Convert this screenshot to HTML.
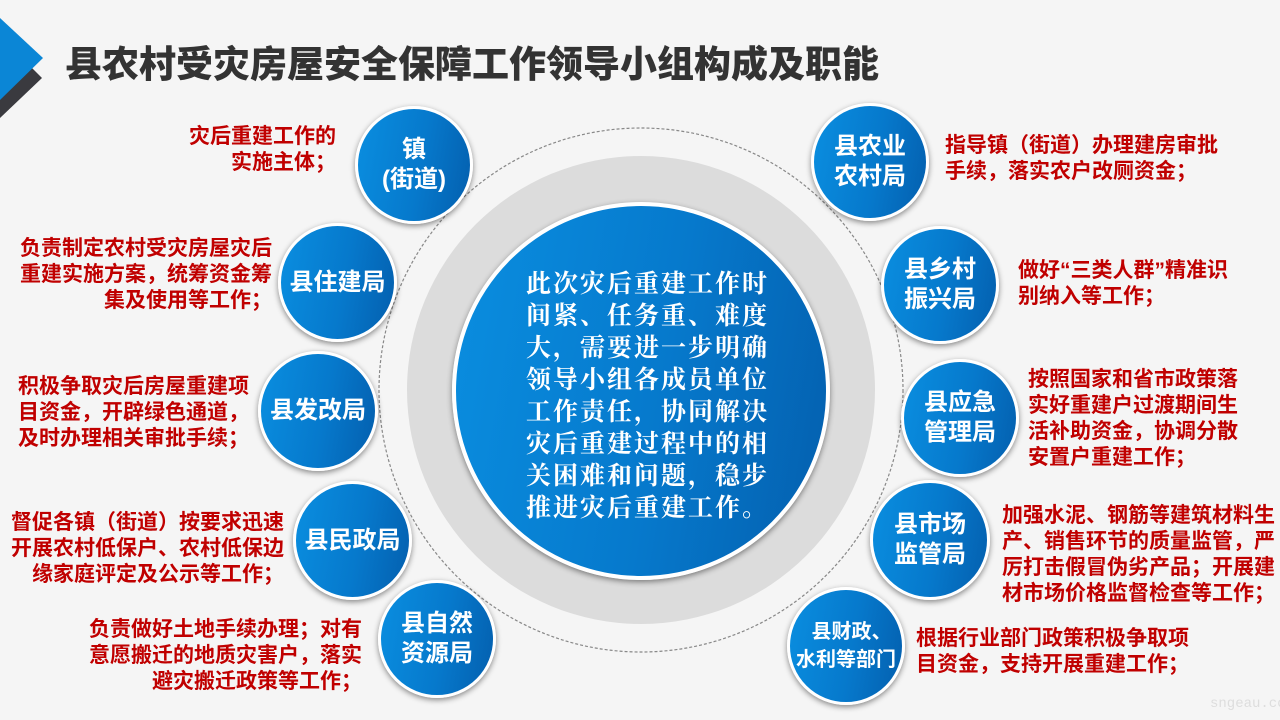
<!DOCTYPE html>
<html><head><meta charset="utf-8"><style>
body{margin:0;width:1280px;height:720px;overflow:hidden;background:#f5f5f5;font-family:"Liberation Sans","Noto Sans CJK SC",sans-serif;position:relative}
.a{position:absolute}
.n{position:absolute;border-radius:50%;background:linear-gradient(100deg,#0a8ee0 0%,#0679cc 55%,#045fae 100%);border:3px solid #fff;box-shadow:0 2px 6px rgba(0,0,0,.45);color:#fff;font-weight:bold;font-size:24px;line-height:30px;display:flex;align-items:center;justify-content:center;text-align:center;box-sizing:border-box}
.t{position:absolute;color:#c00000;font-weight:bold;font-size:21px;line-height:26px;white-space:nowrap}
.r{text-align:right}
</style></head><body>
<svg class="a" style="left:0;top:0" width="1280" height="720">
<polygon points="0,36 0,118 42,78" fill="#3a3a3f"/>
<polygon points="0,18 0,100 43,58" fill="#0b86d6"/>
<circle cx="641" cy="390" r="262" fill="none" stroke="#888" stroke-width="1.2" stroke-dasharray="3,2"/>
<circle cx="641" cy="390" r="234" fill="#dcdcdc"/>
</svg>
<div class="a" style="left:65px;top:34px;font-size:37px;font-weight:900;color:#333;letter-spacing:0px;white-space:nowrap;font-family:'Noto Sans CJK SC',sans-serif">县农村受灾房屋安全保障工作领导小组构成及职能</div>
<div class="n" style="left:452px;top:202px;width:378px;height:378px;border-width:4px;display:block;padding:60px 0 0 70px;text-align:left;font-size:25px;line-height:32px;letter-spacing:2px;font-family:'Noto Serif CJK SC',serif">此次灾后重建工作时<br>间紧、任务重、难度<br>大，需要进一步明确<br>领导小组各成员单位<br>工作责任，协同解决<br>灾后重建过程中的相<br>关困难和问题，稳步<br>推进灾后重建工作。</div>

<div class="n" style="left:355px;top:106px;width:118px;height:118px">镇<br>(街道)</div>
<div class="n" style="left:278px;top:223px;width:119px;height:119px">县住建局</div>
<div class="n" style="left:258px;top:351px;width:120px;height:120px">县发改局</div>
<div class="n" style="left:293px;top:481px;width:119px;height:119px">县民政局</div>
<div class="n" style="left:378px;top:580px;width:118px;height:118px">县自然<br>资源局</div>
<div class="n" style="left:811px;top:103px;width:118px;height:118px">县农业<br>农村局</div>
<div class="n" style="left:881px;top:226px;width:118px;height:118px">县乡村<br>振兴局</div>
<div class="n" style="left:901px;top:359px;width:118px;height:118px">县应急<br>管理局</div>
<div class="n" style="left:870px;top:480px;width:120px;height:120px">县市场<br>监管局</div>
<div class="n" style="left:787px;top:587px;width:118px;height:118px;font-size:20px;line-height:28px">&nbsp;&nbsp;县财政、<br>水利等部门</div>

<div class="t r" style="right:944px;top:124px">灾后重建工作的<br>实施主体；</div>
<div class="t r" style="right:1008px;top:236px">负责制定农村受灾房屋灾后<br>重建实施方案，统筹资金筹<br>集及使用等工作；</div>
<div class="t" style="left:18px;top:374px">积极争取灾后房屋重建项<br>目资金，开辟绿色通道，<br>及时办理相关审批手续；</div>
<div class="t r" style="right:996px;top:510px">督促各镇（街道）按要求迅速<br>开展农村低保户、农村低保边<br>缘家庭评定及公示等工作；</div>
<div class="t r" style="right:918px;top:617px">负责做好土地手续办理；对有<br>意愿搬迁的地质灾害户，落实<br>避灾搬迁政策等工作；</div>
<div class="t" style="left:945px;top:133px">指导镇（街道）办理建房审批<br>手续，落实农户改厕资金；</div>
<div class="t" style="left:1018px;top:258px">做好“三类人群”精准识<br>别纳入等工作；</div>
<div class="t" style="left:1028px;top:367px">按照国家和省市政策落<br>实好重建户过渡期间生<br>活补助资金，协调分散<br>安置户重建工作；</div>
<div class="t" style="left:1002px;top:503px">加强水泥、钢筋等建筑材料生<br>产、销售环节的质量监管，严<br>厉打击假冒伪劣产品；开展建<br>材市场价格监督检查等工作；</div>
<div class="t" style="left:916px;top:626px">根据行业部门政策积极争取项<br>目资金，支持开展重建工作；</div>
<div class="a" style="left:1210px;top:696px;color:#ddd;font-size:14px;font-family:'Liberation Mono',monospace">sngeau.com</div>
</body></html>
